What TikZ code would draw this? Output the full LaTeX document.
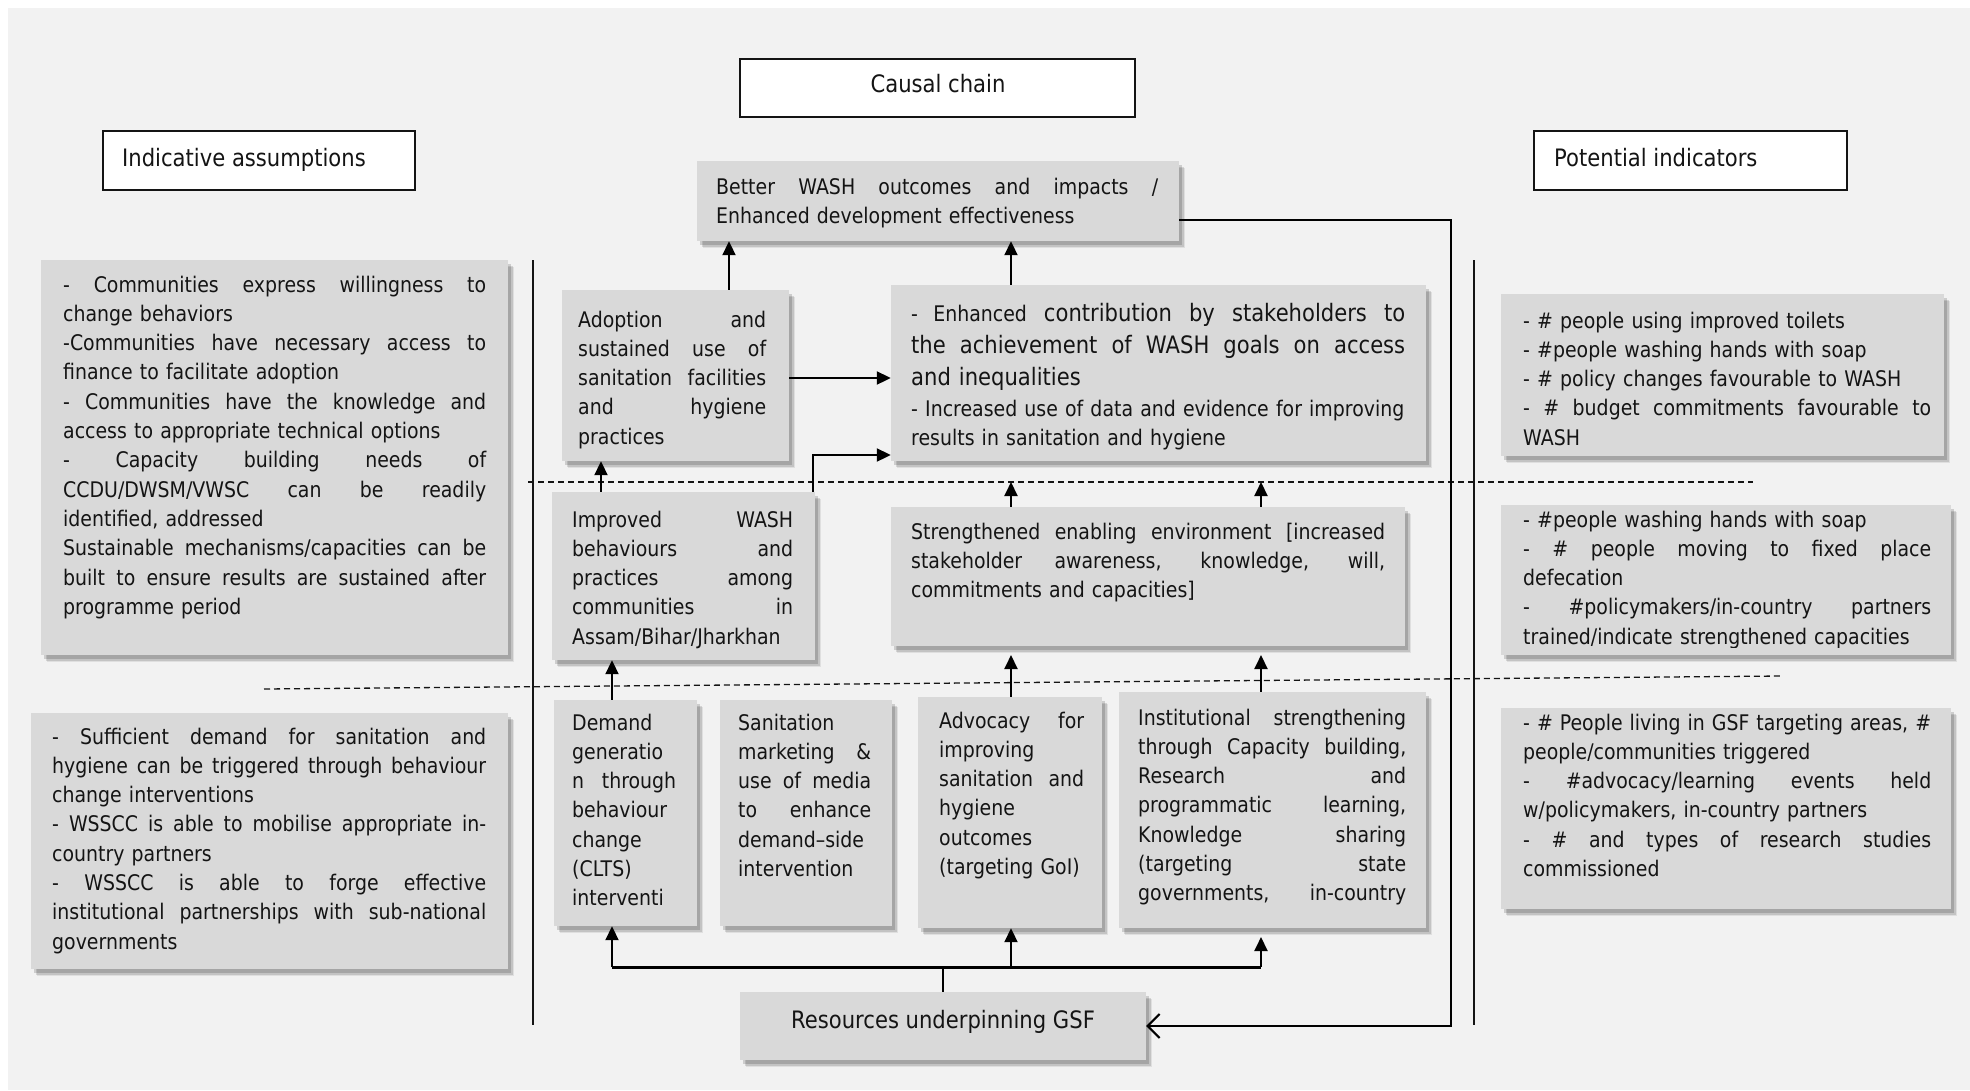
\documentclass[tikz,border=0pt]{standalone}
\usepackage{fontspec}
\usetikzlibrary{arrows.meta,fit,shadows}
\newfontfamily\dvfont[FakeStretch=0.88]{DejaVu Sans}
\definecolor{bg}{HTML}{F2F2F2}
\definecolor{boxg}{HTML}{D9D9D9}
\definecolor{ink}{HTML}{141414}
\newcommand\J[1]{\makebox[\hsize][s]{\spaceskip=0pt\xspaceskip=0pt #1}\\}
\hbadness=10000
\begin{document}
\begin{tikzpicture}[x=1pt,y=-1pt,
 card/.style={fill=boxg, inner sep=0pt, draw=none,
   drop shadow={shadow xshift=6pt,shadow yshift=-7pt,opacity=0.08,fill=black},
   drop shadow={shadow xshift=4.5pt,shadow yshift=-5.5pt,opacity=0.12,fill=black},
   drop shadow={shadow xshift=3pt,shadow yshift=-3.5pt,opacity=0.15,fill=black}},
 hdr/.style={fill=white, draw=ink, line width=1.3pt, inner sep=0pt},
 txt/.style={anchor=base west, inner sep=0pt, align=left, text=ink, font=\dvfont\fontsize{21.5}{29.3}\selectfont},
 htxt/.style={inner sep=0pt, text=ink, font=\dvfont\fontsize{24}{29}\selectfont},
 arr/.style={line width=2pt, -{Triangle[length=14pt,width=13pt]}},
 sepline/.style={line width=2pt, draw=ink},
 dsh/.style={line width=1.3pt, dash pattern=on 6pt off 4pt, draw=ink},
 fb/.style={line width=2pt, -{Straight Barb[length=12pt,width=24pt,line width=2pt]}}
]
\useasboundingbox (0,0) rectangle (1970,1090);
\fill[white] (0,0) rectangle (1970,1090);
\fill[bg] (8,8) rectangle (1970,1090);

% header boxes
\node[hdr, fit={(103,131) (415,190)}] (ia) {};
\node[htxt, anchor=base west] (iat) at (122,166) {Indicative assumptions};
\node[hdr, fit={(740,59) (1135,117)}] (cc) {};
\node[htxt, anchor=base] (cct) at (938,92) {Causal chain};
\node[hdr, fit={(1534,131) (1847,190)}] (pi) {};
\node[htxt, anchor=base west] (pit) at (1554,166) {Potential indicators};

% left column
\node[card, fit={(41,260) (508,655)}] (a1) {};
\node[txt, text width=423pt] (a1t) at (63,292) {%
\J{- Communities express willingness to}
change behaviors\\
\J{-Communities have necessary access to}
finance to facilitate adoption\\
\J{- Communities have the knowledge and}
access to appropriate technical options\\
\J{- Capacity building needs of}
\J{CCDU/DWSM/VWSC can be readily}
identified, addressed\\
\J{Sustainable mechanisms/capacities can be}
\J{built to ensure results are sustained after}
programme period};

\node[card, fit={(31,713) (508,969)}] (a2) {};
\node[txt, text width=434pt] (a2t) at (52,744) {%
\J{- Sufficient demand for sanitation and}
\J{hygiene can be triggered through behaviour}
change interventions\\
\J{- WSSCC is able to mobilise appropriate in-}
country partners\\
\J{- WSSCC is able to forge effective}
\J{institutional partnerships with sub-national}
governments};

% right column
\node[card, fit={(1501,294) (1944,456)}] (i1) {};
\node[txt, text width=408pt] (i1t) at (1523,328) {%
- \# people using improved toilets\\
- \#people washing hands with soap\\
- \# policy changes favourable to WASH\\
\J{- \# budget commitments favourable to}
WASH};

\node[card, fit={(1501,505) (1951,655)}] (i2) {};
\begin{scope}
\clip (1501,505) rectangle (1951,647);
\node[txt, text width=408pt] (i2t) at (1523,527) {%
- \#people washing hands with soap\\
\J{- \# people moving to fixed place}
defecation\\
\J{- \#policymakers/in-country partners}
trained/indicate strengthened capacities};
\end{scope}

\node[card, fit={(1501,708) (1951,909)}] (i3) {};
\node[txt, text width=408pt] (i3t) at (1523,730) {%
\J{- \# People living in GSF targeting areas, \#}
people/communities triggered\\
\J{- \#advocacy/learning events held}
w/policymakers, in-country partners\\
\J{- \# and types of research studies}
commissioned};

% centre column
\node[card, fit={(697,161) (1179,241)}] (better) {};
\node[txt, text width=442pt] (bettert) at (716,194) {%
\J{Better WASH outcomes and impacts /}
Enhanced development effectiveness};

\node[card, fit={(562,290) (789,461)}] (adopt) {};
\node[txt, text width=188pt] (adoptt) at (578,327) {%
\J{Adoption and}
\J{sustained use of}
\J{sanitation facilities}
\J{and hygiene}
practices};

\node[card, fit={(891,285) (1426,461)}] (enh) {};
\node[txt, text width=494pt, font=\dvfont\fontsize{24}{32}\selectfont] (enht1) at (911,321) {%
\J{{\fontsize{21.5}{32}\selectfont - Enhanced} contribution by stakeholders to}
\J{the achievement of WASH goals on access}
and inequalities};
\node[txt, text width=494pt] (enht2) at (911,416) {%
- Increased use of data and evidence for improving\\
results in sanitation and hygiene};

\node[card, fit={(552,492) (815,660)}] (impr) {};
\node[txt, text width=221pt] (imprt) at (572,527) {%
\J{Improved WASH}
\J{behaviours and}
\J{practices among}
\J{communities in}
Assam/Bihar/Jharkhan};

\node[card, fit={(891,507) (1405,646)}] (streng) {};
\node[txt, text width=474pt] (strengt) at (911,539) {%
\J{Strengthened enabling environment [increased}
\J{stakeholder awareness, knowledge, will,}
commitments and capacities]};

\node[card, fit={(554,700) (697,926)}] (demand) {};
\node[txt, text width=104pt] (demandt) at (572,730) {%
Demand\\
generatio\\
\J{n through}
behaviour\\
change\\
(CLTS)\\
interventi};

\node[card, fit={(720,700) (892,926)}] (san) {};
\node[txt, text width=133pt] (sant) at (738,730) {%
Sanitation\\
\J{marketing \&}
\J{use of media}
\J{to enhance}
demand–side\\
intervention};

\node[card, fit={(918,697) (1102,928)}] (advoc) {};
\node[txt, text width=145pt] (advt) at (939,728) {%
\J{Advocacy for}
improving\\
\J{sanitation and}
hygiene\\
outcomes\\
(targeting GoI)};

\node[card, fit={(1119,692) (1426,928)}] (inst) {};
\node[txt, text width=268pt] (instt) at (1138,725) {%
\J{Institutional strengthening}
\J{through Capacity building,}
\J{Research and}
\J{programmatic learning,}
\J{Knowledge sharing}
\J{(targeting state}
\J{governments, in-country}};

\node[card, fit={(740,992) (1146,1060)}] (res) {};
\node[htxt, anchor=base] (rest) at (943,1028) {Resources underpinning GSF};

% separators
\draw[sepline] (533,260) -- (533,1025);
\draw[sepline] (1474,260) -- (1474,1025);
\coordinate (dashA) at (528,482);
\coordinate (dashB) at (1753,482);
\draw[dsh] (dashA) -- (dashB);
\draw[dsh] (264,689) -- (1783,676);

% helper coordinates
\coordinate (xa) at (729,0);
\coordinate (xb) at (1011,0);
\coordinate (xc) at (1261,0);
\coordinate (xd) at (601,0);
\coordinate (xe) at (612,0);
\coordinate (xf) at (813,0);
\coordinate (ya) at (0,378);
\coordinate (yb) at (0,455);
\coordinate (ytip) at (0,655);
\coordinate (yhub) at (0,967);
\coordinate (yinst) at (0,937);
\coordinate (fbc) at (1451,220);

% connectors
\draw[arr] (adopt.north -| xa) -- (better.south -| xa);
\draw[arr] (enh.north -| xb) -- (better.south -| xb);
\draw[arr] (adopt.east |- ya) -- (enh.west |- ya);
\draw[arr] (impr.north -| xf) |- (enh.west |- yb);
\draw[arr] (impr.north -| xd) -- (adopt.south -| xd);
\draw[arr] (streng.north -| xb) -- (dashA -| xb);
\draw[arr] (streng.north -| xc) -- (dashA -| xc);
\draw[arr] (demand.north -| xe) -- (impr.south -| xe);
\draw[arr] (advoc.north -| xb) -- (ytip -| xb);
\draw[arr] (inst.north -| xc) -- (ytip -| xc);
\draw[line width=2pt] (res.north) -- (res.north |- yhub);
\draw[line width=3pt] (yhub -| xe) -- (yhub -| xc);
\draw[arr] (yhub -| xe) -- (demand.south -| xe);
\draw[arr] (yhub -| xb) -- (advoc.south -| xb);
\draw[arr] (yhub -| xc) -- (yinst -| xc);
\draw[fb] (better.east |- fbc) -- (fbc) |- (res.east);
\end{tikzpicture}
\end{document}
